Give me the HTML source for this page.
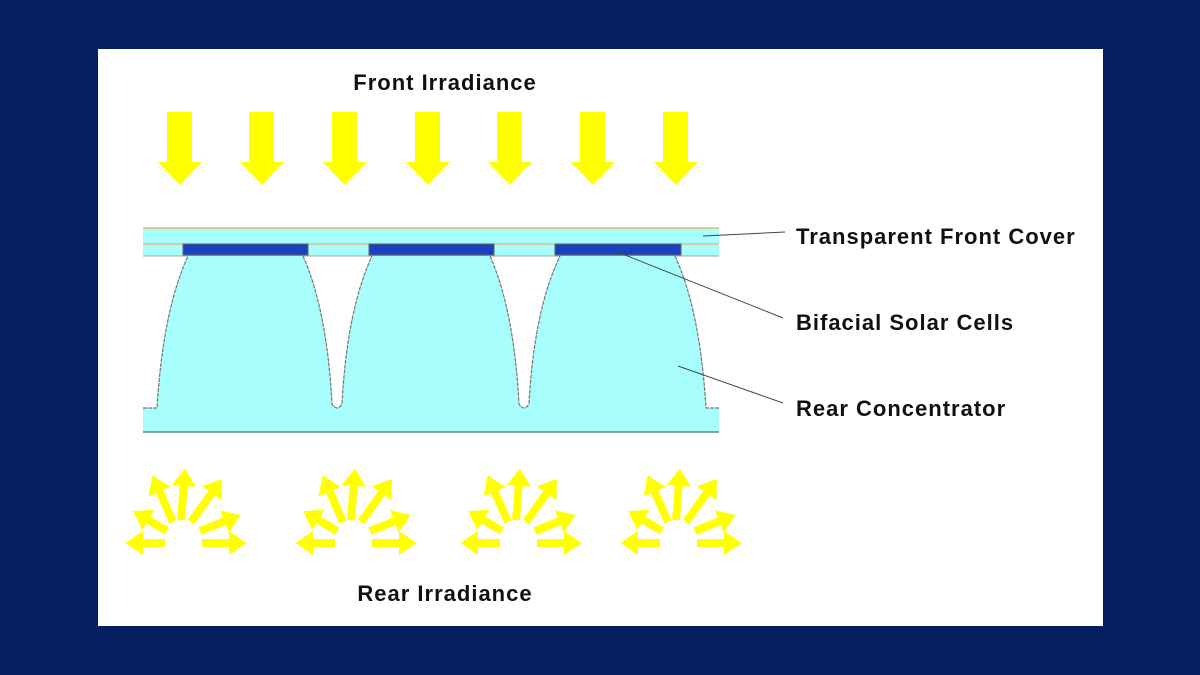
<!DOCTYPE html>
<html><head><meta charset="utf-8"><style>
html,body{margin:0;padding:0;background:#041e5f;}
svg{display:block}
text{font-family:"Liberation Sans",Arial,sans-serif;font-weight:bold;font-size:22px;letter-spacing:1px;fill:#111}
</style></head><body>
<svg width="1200" height="675" viewBox="0 0 1200 675" xmlns="http://www.w3.org/2000/svg">
<defs>
<marker id="ah" markerWidth="3" markerHeight="3" refX="0.5" refY="1.5" orient="auto" markerUnits="strokeWidth">
<path d="M0,0 L2.2,1.5 L0,3 Z" fill="#ffff00"/>
</marker>
<g id="fa"><path d="M-13,0 H12 V50 H22 L0,73 L-22,50 H-13 Z" fill="#ffff00"/></g>
<g id="ra" stroke="#ffff00" stroke-width="8" marker-end="url(#ah)">
<line x1="-18" y1="3" x2="-44" y2="3"/>
<line x1="-16" y1="-9" x2="-38" y2="-22"/>
<line x1="-10" y1="-18" x2="-25" y2="-52"/>
<line x1="-2" y1="-20" x2="1" y2="-58"/>
<line x1="8" y1="-18" x2="31" y2="-50"/>
<line x1="17" y1="-9" x2="45" y2="-20"/>
<line x1="19" y1="3" x2="50" y2="3"/>
</g>
</defs>
<rect x="98" y="49" width="1005" height="577" fill="#fff"/>
<text x="445" y="90" text-anchor="middle">Front Irradiance</text>
<text x="445" y="601" text-anchor="middle">Rear Irradiance</text>
<g transform="translate(0,112)">
<use href="#fa" x="180"/><use href="#fa" x="262"/><use href="#fa" x="345"/><use href="#fa" x="428"/><use href="#fa" x="510"/><use href="#fa" x="593"/><use href="#fa" x="676"/>
</g>
<rect x="143" y="227" width="576" height="29" fill="#a8fdfd"/>
<line x1="143" y1="228" x2="719" y2="228" stroke="#e8b890" stroke-width="1.5"/>
<line x1="143" y1="244" x2="719" y2="244" stroke="#e8b890" stroke-width="1.5"/>
<line x1="143" y1="256" x2="719" y2="256" stroke="#99aaaa" stroke-width="1"/>
<rect x="183" y="244" width="125" height="11" fill="#1a3fbf" stroke="#666" stroke-width="1"/>
<rect x="369" y="244" width="125" height="11" fill="#1a3fbf" stroke="#666" stroke-width="1"/>
<rect x="555" y="244" width="126" height="11" fill="#1a3fbf" stroke="#666" stroke-width="1"/>
<path d="M143,408 H157 Q163,310 188,256 H303 Q327,310 332,404 Q337,412 342,404 Q347,310 372,256 H490 Q514,310 519,404 Q524,412 529,404 Q534,310 560,256 H675 Q700,310 706,408 H719 V432 H143 Z" fill="#a8fdfd"/>
<path d="M143,408 H157 Q163,310 188,256 M303,256 Q327,310 332,404 Q337,412 342,404 Q347,310 372,256 M490,256 Q514,310 519,404 Q524,412 529,404 Q534,310 560,256 M675,256 Q700,310 706,408 H719" fill="none" stroke="#777" stroke-width="1.2" stroke-dasharray="4,1"/>
<line x1="143" y1="432" x2="719" y2="432" stroke="#5a8a8a" stroke-width="1.5"/>
<line x1="703" y1="236" x2="785" y2="232" stroke="#444" stroke-width="1"/>
<line x1="615" y1="251" x2="783" y2="318" stroke="#444" stroke-width="1"/>
<line x1="678" y1="366" x2="783" y2="403" stroke="#444" stroke-width="1"/>
<text x="796" y="244">Transparent Front Cover</text>
<text x="796" y="330">Bifacial Solar Cells</text>
<text x="796" y="416">Rear Concentrator</text>
<use href="#ra" x="183" y="540"/>
<use href="#ra" x="353" y="540"/>
<use href="#ra" x="518" y="540"/>
<use href="#ra" x="678" y="540"/>
</svg>
</body></html>
